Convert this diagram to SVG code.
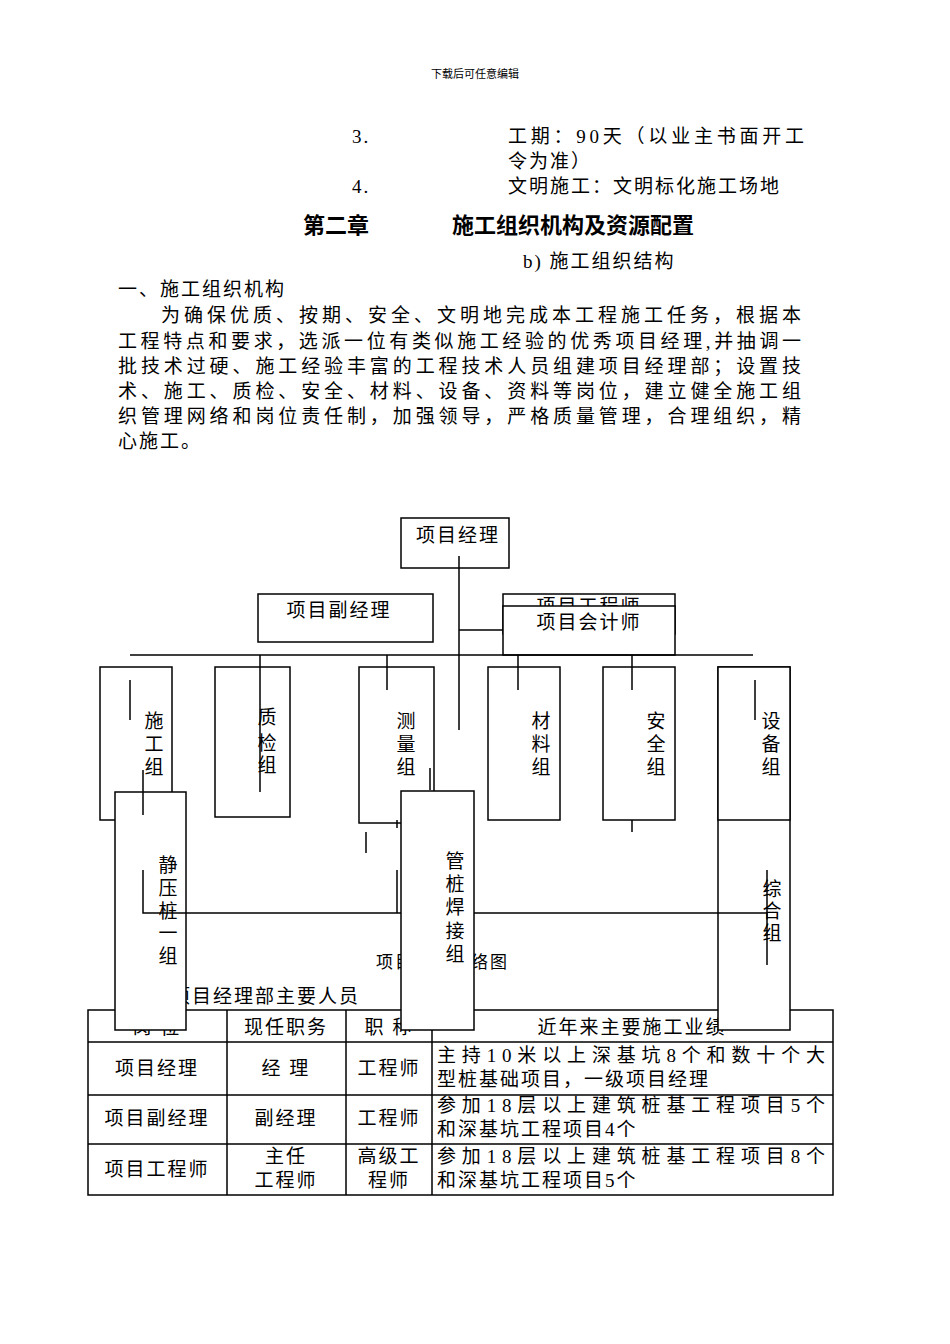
<svg xmlns="http://www.w3.org/2000/svg" width="950" height="1344" viewBox="0 0 950 1344">
<style>
text{font-family:"Liberation Serif","Noto Sans CJK SC",serif;fill:#000}
.t{font-size:19px;letter-spacing:2px}
.s{font-size:11px}
.h{font-size:22px;font-weight:bold}
.b{fill:#fff;stroke:#000;stroke-width:1.5}
.l{stroke:#000;stroke-width:1.5;fill:none}
.c{text-anchor:middle}
</style>
<rect width="950" height="1344" fill="#fff"/>
<text class="s c" x="475" y="78">下载后可任意编辑</text>
<text class="t" x="352" y="143">3.</text>
<text class="t" x="508" y="143" textLength="298">工期：90天（以业主书面开工</text>
<text class="t" x="508" y="168">令为准）</text>
<text class="t" x="352" y="193">4.</text>
<text class="t" x="508" y="193">文明施工：文明标化施工场地</text>
<text class="h" x="303" y="233">第二章</text>
<text class="h" x="452" y="233">施工组织机构及资源配置</text>
<text class="t" x="523" y="268">b) 施工组织结构</text>
<text class="t" x="118" y="296">一、施工组织机构</text>
<text class="t" x="161" y="322" textLength="642">为确保优质、按期、安全、文明地完成本工程施工任务，根据本</text>
<text class="t" x="118" y="348" textLength="685">工程特点和要求，选派一位有类似施工经验的优秀项目经理,并抽调一</text>
<text class="t" x="118" y="373" textLength="685">批技术过硬、施工经验丰富的工程技术人员组建项目经理部；设置技</text>
<text class="t" x="118" y="398" textLength="685">术、施工、质检、安全、材料、设备、资料等岗位，建立健全施工组</text>
<text class="t" x="118" y="423" textLength="685">织管理网络和岗位责任制，加强领导，严格质量管理，合理组织，精</text>
<text class="t" x="118" y="448">心施工。</text>
<text class="t" x="376" y="968" style="font-size:17px">项目管理网络图</text>
<text class="t" x="129" y="1003">二、项目经理部主要人员</text>
<g id="table">
<rect class="l" x="88" y="1010" width="745" height="185"/>
<path class="l" d="M88 1042H833M88 1095H833M88 1144H833M227 1010V1195M346 1010V1195M432 1010V1195"/>
<text class="t c" x="157" y="1034">岗 位</text><text class="t c" x="286" y="1034">现任职务</text><text class="t c" x="389" y="1034">职 称</text><text class="t c" x="632" y="1034">近年来主要施工业绩</text>
<text class="t c" x="157" y="1075">项目经理</text><text class="t c" x="286" y="1075">经 理</text><text class="t c" x="389" y="1075">工程师</text>
<text class="t" x="437" y="1062" textLength="390">主持10米以上深基坑8个和数十个大</text><text class="t" x="437" y="1086">型桩基础项目，一级项目经理</text>
<text class="t c" x="157" y="1125">项目副经理</text><text class="t c" x="286" y="1125">副经理</text><text class="t c" x="389" y="1125">工程师</text>
<text class="t" x="437" y="1112" textLength="390">参加18层以上建筑桩基工程项目5个</text><text class="t" x="437" y="1136">和深基坑工程项目4个</text>
<text class="t c" x="157" y="1176">项目工程师</text><text class="t c" x="286" y="1163">主任</text><text class="t c" x="286" y="1187">工程师</text><text class="t c" x="389" y="1163">高级工</text><text class="t c" x="389" y="1187">程师</text>
<text class="t" x="437" y="1163" textLength="390">参加18层以上建筑桩基工程项目8个</text><text class="t" x="437" y="1187">和深基坑工程项目5个</text>
</g>
<g id="pm"><rect class="b" x="401" y="518" width="108" height="50"/><text class="t c" x="458" y="542">项目经理</text></g>
<g id="dpm"><rect class="b" x="258" y="594" width="175" height="48"/><text class="t c" x="339" y="617">项目副经理</text></g>
<g id="eng"><rect class="b" x="503" y="594" width="172" height="40"/><text class="t c" x="589" y="613">项目工程师</text></g>
<g id="acc"><rect class="b" x="503" y="606" width="172" height="49"/><text class="t c" x="589" y="629">项目会计师</text></g>
<g id="g1"><rect class="b" x="100" y="667" width="72" height="153"/><text class="t c" x="155" y="728">施</text><text class="t c" x="155" y="751">工</text><text class="t c" x="155" y="774">组</text></g>
<g id="g2"><rect class="b" x="215" y="667" width="75" height="150"/><text class="t c" x="268" y="724">质</text><text class="t c" x="268" y="750">检</text><text class="t c" x="268" y="772">组</text></g>
<g id="g3"><rect class="b" x="359" y="667" width="75" height="156"/><text class="t c" x="407" y="728">测</text><text class="t c" x="407" y="751">量</text><text class="t c" x="407" y="774">组</text></g>
<g id="g4"><rect class="b" x="488" y="667" width="72" height="153"/><text class="t c" x="542" y="728">材</text><text class="t c" x="542" y="751">料</text><text class="t c" x="542" y="774">组</text></g>
<g id="g5"><rect class="b" x="603" y="667" width="72" height="153"/><text class="t c" x="657" y="728">安</text><text class="t c" x="657" y="751">全</text><text class="t c" x="657" y="774">组</text></g>
<g id="g7"><rect class="b" x="718" y="667" width="72" height="363"/><text class="t c" x="773" y="896">综</text><text class="t c" x="773" y="918">合</text><text class="t c" x="773" y="940">组</text></g>
<g id="g6"><rect class="b" x="718" y="667" width="72" height="153"/><text class="t c" x="772" y="728">设</text><text class="t c" x="772" y="751">备</text><text class="t c" x="772" y="774">组</text></g>
<g id="g8"><rect class="b" x="115" y="792" width="71" height="238"/><text class="t c" x="169" y="872">静</text><text class="t c" x="169" y="895">压</text><text class="t c" x="169" y="918">桩</text><text class="t c" x="169" y="940">一</text><text class="t c" x="169" y="963">组</text></g>
<g id="g9"><rect class="b" x="401" y="791" width="73" height="239"/><text class="t c" x="456" y="868">管</text><text class="t c" x="456" y="891">桩</text><text class="t c" x="456" y="914">焊</text><text class="t c" x="456" y="938">接</text><text class="t c" x="456" y="961">组</text></g>
<g id="connectors">
<path class="l" d="M459 556V730M459 630H503M130 655H753M260 655V792M387 655V690M518 655V690M632 655V690M130 680V720M755 680V720M143 770V815M430 768V790M143 870V913H401M474 913H767M397 870V913M767 870V965M366 832V853M632 820V832M397 820V828"/>
</g>
</svg>
